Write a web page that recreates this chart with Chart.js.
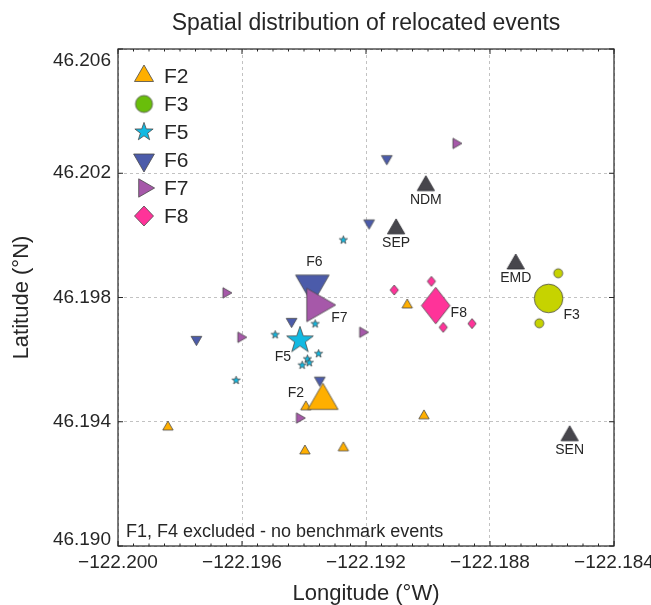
<!DOCTYPE html>
<html>
<head>
<meta charset="utf-8">
<title>Relocated events</title>
<script src="https://cdn.jsdelivr.net/npm/chart.js@4.4.1/dist/chart.umd.min.js"></script>
<style>
  html, body { margin: 0; padding: 0; background: #fff; }
  #wrap { width: 651px; height: 605px; }
</style>
</head>
<body>
<div id="wrap"><canvas id="chart"></canvas></div>
<script>
// event families (F1 and F4 have no benchmark events)
const families = ["F2", "F3", "F5", "F6", "F7", "F8"];

// relocated events, longitude / latitude in degrees
const f2Lon = [-122.19394, -122.19067, -122.19013, -122.19273, -122.19397, -122.19839];
const f2Lat = [46.19448, 46.19776, 46.19419, 46.19316, 46.19306, 46.19383];
const f3Lon = [-122.18580, -122.18641];
const f3Lat = [46.19878, 46.19717];
const f5Lon = [-122.19273, -122.19364, -122.19493, -122.19353, -122.19389, -122.19383, -122.19406, -122.19619];
const f5Lat = [46.19985, 46.19715, 46.19680, 46.19619, 46.19602, 46.19590, 46.19582, 46.19533];
const f6Lon = [-122.19133, -122.19190, -122.19440, -122.19747, -122.19349];
const f6Lat = [46.20247, 46.20040, 46.19723, 46.19665, 46.19534];
const f7Lon = [-122.18910, -122.19652, -122.19604, -122.19211, -122.19415];
const f7Lat = [46.20296, 46.19815, 46.19672, 46.19688, 46.19412];
const f8Lon = [-122.18989, -122.19109, -122.18951, -122.18858];
const f8Lat = [46.19852, 46.19824, 46.19704, 46.19716];

// benchmark event of each family
const benchLon = [-122.19339, -122.18611, -122.19413, -122.19373, -122.19360, -122.18975];
const benchLat = [46.19468, 46.19797, 46.19662, 46.19841, 46.19776, 46.19774];

// seismic stations
const stationNames = ["NDM", "SEP", "EMD", "SEN"];
const stationLon = [-122.19007, -122.19103, -122.18717, -122.18543];
const stationLat = [46.20160, 46.20021, 46.19908, 46.19355];

// axis ticks
const lonTicks = [-122.200, -122.196, -122.192, -122.188, -122.184];
const latTicks = [46.190, 46.194, 46.198, 46.202, 46.206];

const eventLon = [f2Lon, f3Lon, f5Lon, f6Lon, f7Lon, f8Lon];
const eventLat = [f2Lat, f3Lat, f5Lat, f6Lat, f7Lat, f8Lat];

// marker look per family
const shapes = ["up", "circle", "star", "down", "right", "diamond"];
const colors = ["#ffaf00", "#c6d300", "#12b9e2", "#4b5baa", "#a658a9", "#ff3399"];
const legendColors = ["#ffaf00", "#69be0a", "#12b9e2", "#4b5baa", "#a658a9", "#ff3399"];
const eventSize = [6, 4.5, 4.3, 6.2, 6, 5];
const benchSize = [17.5, 14.3, 14, 19.4, 19.3, 18.3];
const legendSize = [11, 8.5, 9.6, 12, 10.6, 10];
const diamondRatio = { event: 0.83, bench: 0.78, legend: 0.95 };
const labelOffset = [[-27, -7], [23, 17], [-17, 17], [2, -23], [23, 13], [23, 8]];

const FONT = "'Liberation Sans', Arial, Helvetica, sans-serif";
const INK = "#262626";

function makeMarker(shape, r, fill, edge, ratio) {
  const size = Math.ceil(2 * r + 4);
  const c = document.createElement("canvas");
  c.width = size;
  c.height = size;
  const g = c.getContext("2d");
  const m = size / 2;
  g.beginPath();
  if (shape === "circle") {
    g.arc(m, m, r, 0, Math.PI * 2);
  } else if (shape === "star") {
    for (let k = 0; k < 10; k++) {
      const a = -Math.PI / 2 + k * Math.PI / 5;
      const rr = k % 2 === 0 ? r : r * 0.4;
      g.lineTo(m + rr * Math.cos(a), m + rr * Math.sin(a));
    }
  } else if (shape === "diamond") {
    const w = r * (ratio || 0.8);
    g.moveTo(m, m - r);
    g.lineTo(m + w, m);
    g.lineTo(m, m + r);
    g.lineTo(m - w, m);
  } else {
    const rot = { up: 0, down: Math.PI, right: Math.PI / 2 }[shape];
    for (let k = 0; k < 3; k++) {
      const a = rot + k * 2 * Math.PI / 3;
      g.lineTo(m + r * Math.sin(a), m - r * Math.cos(a));
    }
  }
  g.closePath();
  g.fillStyle = fill;
  g.fill();
  g.lineWidth = 0.8;
  g.strokeStyle = edge || "#4a4a4a";
  g.stroke();
  return c;
}

const datasets = [];
families.forEach((name, i) => {
  datasets.push({
    label: name,
    data: eventLon[i].map((lon, j) => ({ x: lon, y: eventLat[i][j] })),
    pointStyle: makeMarker(shapes[i], eventSize[i], colors[i], null, diamondRatio.event),
    pointRadius: eventSize[i],
    order: 40 - i
  });
});
families.forEach((name, i) => {
  datasets.push({
    label: name + " benchmark",
    data: [{ x: benchLon[i], y: benchLat[i] }],
    pointStyle: makeMarker(shapes[i], benchSize[i], colors[i], null, diamondRatio.bench),
    pointRadius: benchSize[i],
    order: 20 - i
  });
});
datasets.push({
  label: "Stations",
  data: stationLon.map((lon, j) => ({ x: lon, y: stationLat[j] })),
  pointStyle: makeMarker("up", 10, "#47464c", "#2e2d33"),
  pointRadius: 10,
  order: 50
});

const legendMarkers = shapes.map((s, i) => makeMarker(s, legendSize[i], legendColors[i], null, diamondRatio.legend));

function fmt(v) {
  return (v < 0 ? "\u2212" : "") + Math.abs(v).toFixed(3);
}

// end labels of the latitude axis sit a little inside the box
function latLabel(v) {
  const s = v.toFixed(3);
  if (v === latTicks[latTicks.length - 1]) return ["", s];
  if (v === latTicks[0]) return [s, ""];
  return s;
}

// frame, inward ticks, marker labels, legend and note
const decor = {
  id: "decor",
  afterDatasetsDraw(chart) {
    const { ctx, scales: { x, y } } = chart;
    ctx.save();
    ctx.fillStyle = INK;
    ctx.font = "14px " + FONT;
    ctx.textAlign = "center";
    ctx.textBaseline = "middle";
    families.forEach((name, i) => {
      ctx.fillText(name, x.getPixelForValue(benchLon[i]) + labelOffset[i][0],
        y.getPixelForValue(benchLat[i]) + labelOffset[i][1]);
    });
    stationNames.forEach((name, j) => {
      ctx.fillText(name, x.getPixelForValue(stationLon[j]), y.getPixelForValue(stationLat[j]) + 14);
    });
    ctx.restore();
  },
  afterDraw(chart) {
    const { ctx, chartArea: a, scales: { x, y } } = chart;
    ctx.save();
    ctx.strokeStyle = INK;
    ctx.lineWidth = 1;
    ctx.beginPath();
    // minor ticks on the longitude axis, major ticks all round
    for (let i = 0; i <= 32; i++) {
      const len = i % 8 === 0 ? 5 : 2.5;
      const px = x.getPixelForValue(lonTicks[0] + i * 0.0005);
      ctx.moveTo(px, a.bottom); ctx.lineTo(px, a.bottom - len);
      ctx.moveTo(px, a.top); ctx.lineTo(px, a.top + len);
    }
    latTicks.forEach(v => {
      const py = y.getPixelForValue(v);
      ctx.moveTo(a.left, py); ctx.lineTo(a.left + 5, py);
      ctx.moveTo(a.right, py); ctx.lineTo(a.right - 5, py);
    });
    ctx.stroke();
    ctx.lineWidth = 1.2;
    ctx.strokeRect(a.left, a.top, a.right - a.left, a.bottom - a.top);

    // legend
    ctx.fillStyle = INK;
    ctx.font = "21px " + FONT;
    ctx.textAlign = "left";
    ctx.textBaseline = "middle";
    families.forEach((name, i) => {
      const cy = a.top + 27 + i * 28;
      const mk = legendMarkers[i];
      ctx.drawImage(mk, a.left + 26 - mk.width / 2, cy - mk.height / 2);
      ctx.fillText(name, a.left + 46, cy + 1);
    });

    ctx.font = "18px " + FONT;
    ctx.textBaseline = "alphabetic";
    ctx.fillText("F1, F4 excluded - no benchmark events", a.left + 8, a.bottom - 9);
    ctx.restore();
  }
};

const tickFont = { family: FONT, size: 19 };

new Chart(document.getElementById("chart"), {
  type: "scatter",
  data: { datasets },
  options: {
    responsive: true,
    maintainAspectRatio: false,
    animation: false,
    events: [],
    layout: { padding: { left: 0, right: 37, top: 0, bottom: 0 } },
    plugins: {
      legend: { display: false },
      tooltip: { enabled: false },
      title: {
        display: true,
        text: "Spatial distribution of relocated events",
        fullSize: false,
        color: INK,
        font: { family: FONT, size: 23, weight: "normal", lineHeight: 1.2 },
        padding: { top: 10, bottom: 11.4 }
      }
    },
    scales: {
      x: {
        type: "linear",
        min: lonTicks[0],
        max: lonTicks[lonTicks.length - 1],
        afterFit(s) { s.height = 59; s.paddingLeft = 0; s.paddingRight = 0; },
        afterBuildTicks(s) { s.ticks = lonTicks.map(v => ({ value: v })); },
        ticks: { color: INK, font: tickFont, padding: 5, maxRotation: 0, callback: fmt },
        grid: { color: "#c2c2c2", drawTicks: false, lineWidth: 1 },
        border: { display: false, dash: [3, 3] },
        title: {
          display: true,
          text: "Longitude (\u00b0W)",
          color: INK,
          font: { family: FONT, size: 22, lineHeight: 1 },
          padding: { top: 0, bottom: 0 }
        }
      },
      y: {
        type: "linear",
        min: latTicks[0],
        max: latTicks[latTicks.length - 1],
        afterFit(s) { s.width = 118; s.paddingTop = 0; s.paddingBottom = 0; },
        afterBuildTicks(s) { s.ticks = latTicks.map(v => ({ value: v })); },
        ticks: {
          color: INK,
          padding: 7,
          font: c => ({ family: FONT, size: 19, lineHeight: c.tick && c.tick.value === latTicks[0] ? "12px" : 1.2 }),
          callback: latLabel
        },
        grid: { color: "#c2c2c2", drawTicks: false, lineWidth: 1 },
        border: { display: false, dash: [3, 3] },
        title: {
          display: true,
          text: "Latitude (\u00b0N)",
          color: INK,
          font: { family: FONT, size: 22, lineHeight: 1 },
          padding: { top: 10.5, bottom: 0 }
        }
      }
    }
  },
  plugins: [decor]
});
</script>
</body>
</html>
